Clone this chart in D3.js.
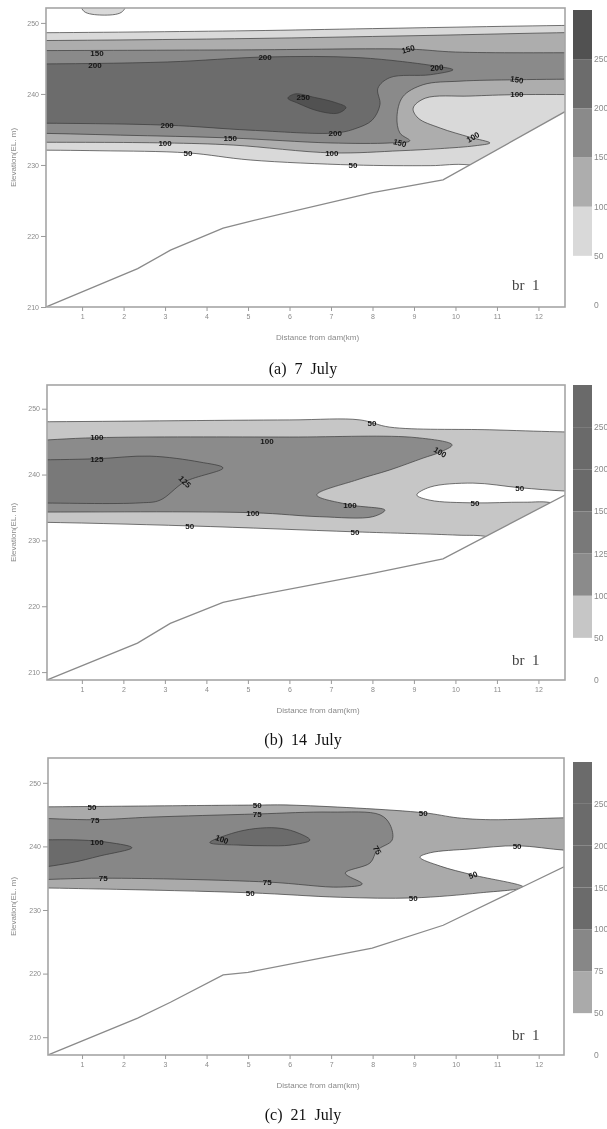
<!DOCTYPE html>
<html>
<head>
<meta charset="utf-8">
<script src="https://cdn.jsdelivr.net/npm/d3@7"></script>
<style>
body { margin: 0; background: #fff; }
svg { filter: grayscale(100%); }
svg text { font-family: "Liberation Sans", Arial, sans-serif; }
.serif { font-family: "Liberation Serif", "Times New Roman", serif !important; white-space: pre; }
</style>
</head>
<body>
<script>
// axis ticks
var distTicks = [1, 2, 3, 4, 5, 6, 7, 8, 9, 10, 11, 12];
var elevTicks = [210, 220, 230, 240, 250];

// ---------- (a) 7 July ----------
var levelsA = [0, 50, 100, 150, 200, 250];
var colorsA = ["#ffffff", "#d9d9d9", "#adadad", "#8a8a8a", "#6c6c6c", "#515151"];
var bedA = [[0.13, 210], [2.34, 215.4], [3.13, 218.0], [4.4, 221.1], [5.0, 222.0], [8.0, 226.1], [9.7, 227.9], [12.64, 237.5]];
var zonesA = [
  {v: 50, pts: [[-0.5, 248.6], [5, 248.9], [8, 249.2], [13.5, 249.7], [13.5, 226], [10.35, 230.0], [9.39, 229.9], [7.53, 230.0], [5.05, 230.7], [3.55, 231.7], [1.43, 232.0], [-0.5, 232.1]]},
  {v: 50, pts: [[0.98, 252.6], [1.05, 251.6], [1.48, 251.1], [1.95, 251.5], [2.05, 252.6], [1.48, 253.2]]},
  {v: 100, pts: [[-0.5, 247.5], [5, 247.8], [9, 248.2], [13.5, 248.7], [13.5, 239.9], [11.48, 239.9], [10.35, 239.7], [9.27, 239.4], [8.98, 238.0], [9.1, 236.6], [9.63, 235.2], [10.35, 233.9], [10.83, 233.1], [10.47, 232.7], [9.63, 232.3], [8.66, 232.0], [7.02, 231.7], [4.64, 232.8], [3.0, 233.1], [-0.5, 233.2]]},
  {v: 150, pts: [[-0.5, 246.1], [4.8, 246.2], [8.9, 246.3], [10.0, 245.9], [13.5, 245.8], [13.5, 242.1], [11.48, 242.0], [10.11, 241.8], [9.22, 241.3], [8.73, 239.6], [8.59, 236.8], [8.66, 234.5], [8.9, 233.4], [8.42, 233.1], [6.98, 233.1], [4.57, 233.8], [1.92, 234.2], [-0.5, 234.5]]},
  {v: 200, pts: [[-0.5, 244.2], [3.05, 244.5], [5.41, 245.2], [7.7, 245.1], [9.55, 243.9], [9.94, 243.4], [9.39, 242.7], [8.42, 242.3], [8.13, 240.8], [8.18, 238.5], [7.99, 236.3], [7.58, 235.1], [7.1, 234.5], [5.05, 234.9], [3.05, 235.6], [-0.5, 235.9]]},
  {v: 250, pts: [[5.96, 239.4], [6.13, 240.0], [6.61, 239.5], [7.1, 238.8], [7.36, 238.1], [7.17, 237.3], [6.69, 237.6], [6.2, 238.7]]}
];
var labelsA = [
  ["150", 1.36, 245.8, 0], ["200", 1.31, 244.1, 0], ["200", 5.41, 245.2, 0], ["250", 6.33, 239.6, 0],
  ["200", 3.05, 235.6, 0], ["150", 4.57, 233.8, 0], ["100", 3.0, 233.1, 0], ["50", 3.55, 231.7, 0],
  ["150", 8.86, 246.3, 15], ["200", 9.55, 243.7, 5], ["150", 11.48, 242.0, -10], ["100", 11.48, 239.9, 0],
  ["200", 7.1, 234.5, 0], ["150", 8.66, 233.1, -15], ["100", 7.02, 231.7, 0], ["100", 10.42, 233.9, 30],
  ["50", 7.53, 230.0, 0]
];

// ---------- (b) 14 July ----------
var levelsB = [0, 50, 100, 125, 150, 200, 250];
var colorsB = ["#ffffff", "#c6c6c6", "#8b8b8b", "#797979", "#6a6a6a", "#6a6a6a", "#6a6a6a"];
var bedB = [[0.16, 208.8], [2.34, 214.4], [3.13, 217.4], [4.4, 220.6], [5.0, 221.4], [8.0, 225.0], [9.7, 227.2], [12.64, 236.9]];
var zonesB = [
  {v: 50, pts: [[-0.5, 248.0], [6.01, 248.3], [7.7, 248.3], [8.42, 247.2], [10.83, 246.8], [12.45, 246.5], [13.5, 246.4], [13.5, 225], [10.83, 230.5], [10.04, 230.8], [7.58, 231.3], [3.6, 232.2], [-0.5, 232.8]]},
  {v: 0, pts: [[9.07, 236.9], [9.39, 238.1], [10.42, 238.7], [11.55, 238.0], [12.64, 237.5], [13.5, 237.4], [13.5, 232], [12.4, 235.6], [11.63, 235.8], [10.47, 235.7], [9.39, 236.1]]},
  {v: 100, pts: [[-0.5, 245.1], [1.36, 245.6], [6.01, 245.7], [9.07, 245.6], [9.92, 244.5], [9.63, 243.4], [9.22, 242.5], [8.42, 240.7], [7.63, 239.2], [6.66, 236.9], [7.46, 235.4], [8.3, 234.6], [8.01, 233.6], [6.73, 233.6], [5.12, 234.2], [-0.5, 234.3]]},
  {v: 125, pts: [[-0.5, 242.2], [1.36, 242.4], [2.64, 242.8], [3.84, 241.9], [4.4, 241.0], [3.48, 238.9], [2.88, 236.1], [2.4, 235.7], [-0.5, 235.7]]}
];
var labelsB = [
  ["100", 1.36, 245.6, 0], ["125", 1.36, 242.4, 0], ["125", 3.48, 238.9, -45], ["100", 5.46, 245.0, 0],
  ["50", 7.99, 247.8, 0], ["100", 9.63, 243.4, -30], ["100", 7.46, 235.4, 0], ["100", 5.12, 234.2, 0],
  ["50", 11.55, 238.0, 0], ["50", 10.47, 235.7, 0], ["50", 3.6, 232.2, 0], ["50", 7.58, 231.3, 0]
];

// ---------- (c) 21 July ----------
var levelsC = [0, 50, 75, 100, 150, 200, 250];
var colorsC = ["#ffffff", "#aaaaaa", "#878787", "#6b6b6b", "#6b6b6b", "#6b6b6b", "#6b6b6b"];
var bedC = [[0.18, 207.2], [2.34, 213.0], [3.13, 215.5], [4.4, 219.8], [5.0, 220.2], [7.99, 224.0], [9.7, 227.6], [12.61, 236.8]];
var zonesC = [
  {v: 50, pts: [[-0.5, 246.2], [5.22, 246.5], [6.01, 246.5], [9.22, 245.3], [10.04, 244.5], [10.83, 244.2], [12.64, 244.5], [13.5, 244.5], [13.5, 239.3], [12.64, 239.4], [11.48, 240.1], [10.35, 239.6], [9.39, 239.0], [9.14, 238.3], [9.63, 236.9], [10.42, 235.5], [11.63, 233.6], [10.59, 232.7], [8.98, 231.9], [7.22, 232.0], [5.05, 232.7], [1.43, 233.3], [-0.5, 233.5]]},
  {v: 75, pts: [[-0.5, 244.5], [1.31, 244.2], [2.64, 244.6], [5.22, 245.1], [6.98, 245.4], [8.18, 244.96], [8.42, 243.4], [8.47, 241.0], [8.11, 239.4], [7.94, 237.4], [7.34, 235.8], [7.75, 234.1], [7.22, 233.6], [5.46, 234.4], [1.51, 235.0], [-0.5, 234.7]]},
  {v: 100, pts: [[-0.5, 241.0], [0.95, 241.0], [1.67, 240.6], [2.2, 239.8], [1.43, 238.5], [0.71, 237.4], [-0.5, 236.4]]},
  {v: 100, pts: [[4.08, 240.6], [4.64, 242.1], [5.17, 242.8], [5.7, 242.9], [6.13, 242.3], [6.49, 241.0], [6.01, 240.2], [5.46, 240.1], [4.81, 240.2]]}
];
var labelsC = [
  ["50", 1.24, 246.1, 0], ["75", 1.31, 244.2, 0], ["100", 1.36, 240.7, 0], ["75", 1.51, 235.0, 0],
  ["50", 5.22, 246.5, 0], ["75", 5.22, 245.1, 0], ["100", 4.37, 241.1, -20], ["75", 5.46, 234.4, 0],
  ["50", 5.05, 232.7, 0], ["50", 9.22, 245.3, 0], ["75", 8.11, 239.4, -60], ["50", 11.48, 240.1, 0],
  ["50", 10.42, 235.5, 20], ["50", 8.98, 231.9, 0]
];

// panel layout (pixels)
var panels = [
  {cap: "(a)  7  July", levels: levelsA, colors: colorsA, bed: bedA, zones: zonesA, labels: labelsA,
   l: 46, r: 565, t: 8, b: 307, xd: [0.13, 12.64], yd: [210, 252.1], barT: 10, barB: 305, capY: 374, brY: 290},
  {cap: "(b)  14  July", levels: levelsB, colors: colorsB, bed: bedB, zones: zonesB, labels: labelsB,
   l: 47, r: 565, t: 385, b: 680, xd: [0.16, 12.64], yd: [208.8, 253.6], barT: 385, barB: 680, capY: 745, brY: 665},
  {cap: "(c)  21  July", levels: levelsC, colors: colorsC, bed: bedC, zones: zonesC, labels: labelsC,
   l: 48, r: 564, t: 758, b: 1055, xd: [0.18, 12.61], yd: [207.2, 253.9], barT: 762, barB: 1055, capY: 1120, brY: 1040}
];

// points placed off the plot edge (x <= -0.5 or x >= 13.5) get pushed further out
// in pairs so the smoothed outline runs straight across the frame edge
function edgeSide(p) {
    return p[0] <= -0.5 ? -1 : (p[0] >= 13.5 ? 1 : 0);
}
function padEdges(pts) {
    var out = [];
    pts.forEach(function(p, i) {
        var q = pts[(i + 1) % pts.length];
        var s = edgeSide(p);
        out.push(p);
        if (s && s === edgeSide(q)) {
            out.push([p[0] + s * 3, p[1]], [q[0] + s * 3, q[1]]);
        }
    });
    return out;
}

var svg = d3.select("body").append("svg")
    .attr("width", 607)
    .attr("height", 1129);

panels.forEach(function(p, pi) {
    var x = d3.scaleLinear().domain(p.xd).range([p.l, p.r]);
    var y = d3.scaleLinear().domain(p.yd).range([p.b, p.t]);
    var g = svg.append("g");

    svg.append("clipPath")
        .attr("id", "clip" + pi)
        .append("rect")
        .attr("x", p.l).attr("y", p.t)
        .attr("width", p.r - p.l).attr("height", p.b - p.t);

    var plot = g.append("g").attr("clip-path", "url(#clip" + pi + ")");

    //filled contour zones, lowest level first
    var shape = d3.line()
        .x(function(d) { return x(d[0]); })
        .y(function(d) { return y(d[1]); })
        .curve(d3.curveCatmullRomClosed.alpha(0.5));

    plot.selectAll("path.zone")
        .data(p.zones)
        .enter()
        .append("path")
        .attr("class", "zone")
        .attr("d", function(d) { return shape(padEdges(d.pts)); })
        .attr("fill", function(d) { return p.colors[p.levels.indexOf(d.v)]; })
        .attr("stroke", "#3a3a3a")
        .attr("stroke-width", 0.7);

    //blank out everything under the river bed
    var n = p.bed.length;
    var slope = (p.bed[n - 1][1] - p.bed[n - 2][1]) / (p.bed[n - 1][0] - p.bed[n - 2][0]);
    var bedExt = [[p.xd[0] - 1, p.bed[0][1]]].concat(p.bed)
        .concat([[p.bed[n - 1][0] + 1, p.bed[n - 1][1] + slope]]);

    plot.append("path")
        .datum(bedExt)
        .attr("fill", "#fff")
        .attr("d", d3.area()
            .x(function(d) { return x(d[0]); })
            .y0(p.b + 5)
            .y1(function(d) { return y(d[1]); }));

    plot.append("path")
        .datum(p.bed)
        .attr("fill", "none")
        .attr("stroke", "#8a8a8a")
        .attr("stroke-width", 1.3)
        .attr("d", d3.line()
            .x(function(d) { return x(d[0]); })
            .y(function(d) { return y(d[1]); }));

    //contour labels
    plot.selectAll("text.lab")
        .data(p.labels)
        .enter()
        .append("text")
        .attr("class", "lab")
        .attr("transform", function(d) {
            return "translate(" + x(d[1]) + "," + y(d[2]) + ") rotate(" + (-d[3]) + ")";
        })
        .attr("text-anchor", "middle")
        .attr("dy", "0.35em")
        .attr("font-size", 8)
        .attr("font-weight", "bold")
        .attr("fill", "#151515")
        .text(function(d) { return d[0]; });

    //frame
    g.append("rect")
        .attr("x", p.l).attr("y", p.t)
        .attr("width", p.r - p.l).attr("height", p.b - p.t)
        .attr("fill", "none")
        .attr("stroke", "#a5a5a5")
        .attr("stroke-width", 1.6);

    //axes
    var ya = g.append("g")
        .attr("transform", "translate(" + p.l + ",0)")
        .call(d3.axisLeft(y).tickValues(elevTicks).tickSize(5).tickPadding(2));
    var xa = g.append("g")
        .attr("transform", "translate(0," + p.b + ")")
        .call(d3.axisBottom(x).tickValues(distTicks).tickSize(4).tickPadding(3));
    [ya, xa].forEach(function(a) {
        a.select(".domain").remove();
        a.attr("font-size", 7).attr("font-family", "Liberation Sans, Arial, sans-serif");
        a.selectAll("line").attr("stroke", "#9a9a9a");
        a.selectAll("text").attr("fill", "#8a8a8a");
    });

    g.append("text")
        .attr("transform", "translate(16," + (p.t + p.b) / 2 + ") rotate(-90)")
        .attr("text-anchor", "middle")
        .attr("font-size", 8)
        .attr("fill", "#8a8a8a")
        .text("Elevation(EL. m)");

    g.append("text")
        .attr("x", (p.l + p.r) / 2 + 12)
        .attr("y", p.b + 33)
        .attr("text-anchor", "middle")
        .attr("font-size", 8)
        .attr("fill", "#8a8a8a")
        .text("Distance from dam(km)");

    g.append("text")
        .attr("class", "serif")
        .attr("x", 512)
        .attr("y", p.brY)
        .attr("font-size", 15)
        .attr("fill", "#444")
        .text("br  1");

    //stepped colour bar
    var cb = d3.scaleLinear().domain([0, p.levels.length]).range([p.barB, p.barT]);
    g.selectAll("rect.cell")
        .data(p.levels.slice(1))
        .enter()
        .append("rect")
        .attr("class", "cell")
        .attr("x", 573)
        .attr("width", 19)
        .attr("y", function(d, i) { return cb(i + 2); })
        .attr("height", function(d, i) { return cb(i + 1) - cb(i + 2); })
        .attr("fill", function(d, i) { return p.colors[i + 1]; });

    g.selectAll("text.cbl")
        .data(p.levels)
        .enter()
        .append("text")
        .attr("class", "cbl")
        .attr("x", 594)
        .attr("y", function(d, i) { return cb(i); })
        .attr("dy", "0.35em")
        .attr("font-size", 8.5)
        .attr("fill", "#8a8a8a")
        .text(function(d) { return d; });

    //caption
    svg.append("text")
        .attr("class", "serif")
        .attr("x", 303)
        .attr("y", p.capY)
        .attr("text-anchor", "middle")
        .attr("font-size", 16)
        .attr("fill", "#111")
        .text(p.cap);
});
</script>
</body>
</html>
